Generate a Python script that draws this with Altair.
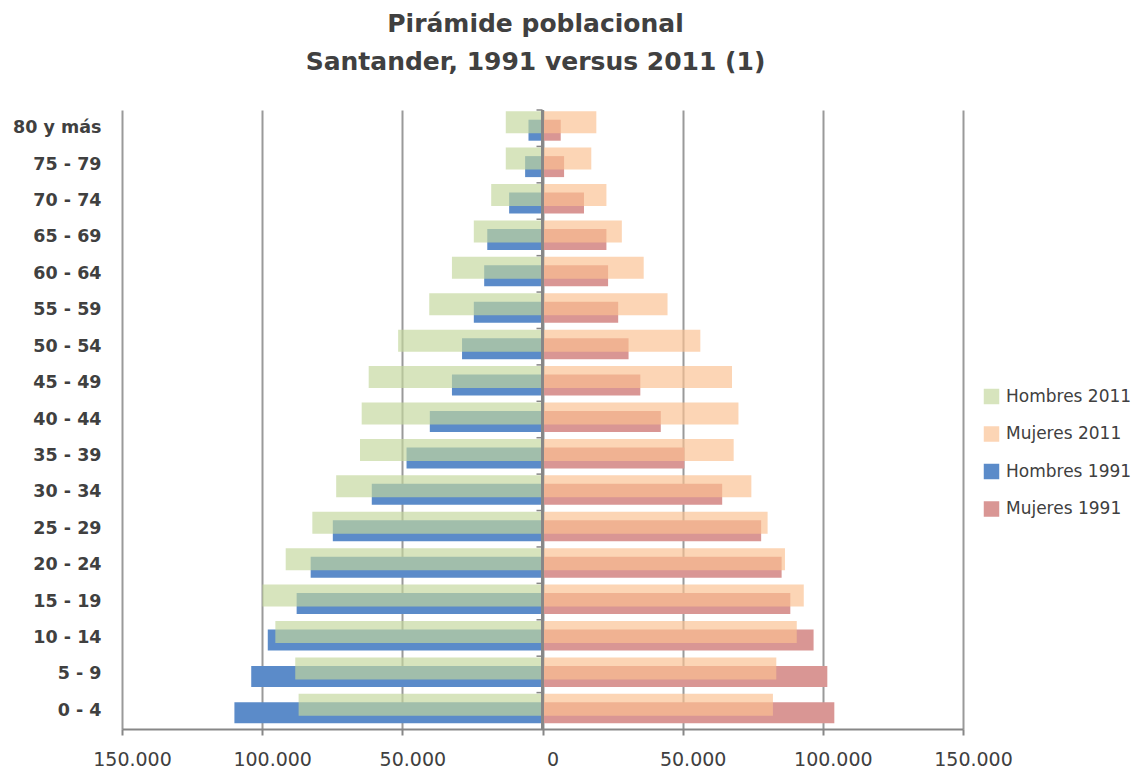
import altair as alt
import pandas as pd

ages = ["0 - 4", "5 - 9", "10 - 14", "15 - 19", "20 - 24", "25 - 29", "30 - 34",
        "35 - 39", "40 - 44", "45 - 49", "50 - 54", "55 - 59", "60 - 64",
        "65 - 69", "70 - 74", "75 - 79", "80 y más"]
hombres_2011 = [87000, 88200, 95300, 99900, 91600, 82100, 73600, 65100, 64500,
                62000, 51500, 40400, 32300, 24500, 18300, 13100, 13100]
hombres_1991 = [109900, 103900, 98000, 87700, 82700, 74800, 60900, 48500, 40200,
                32300, 28700, 24500, 20800, 19700, 11900, 6200, 5000]
mujeres_2011 = [82200, 83400, 90700, 93200, 86500, 80300, 74500, 68200, 69900,
                67600, 56300, 44600, 36100, 28300, 22800, 17400, 19200]
mujeres_1991 = [104100, 101600, 96700, 88400, 85300, 78000, 64100, 50600, 42200,
                34900, 30700, 27000, 23400, 22800, 14800, 7700, 6500]

series_order = ["Hombres 2011", "Mujeres 2011", "Hombres 1991", "Mujeres 1991"]
legend_colors = ["#d7e4bd", "#fcd5b5", "#5b8bc9", "#d99694"]
colors_2011 = ["#c3d79c", "#fbc091"]

rows = []
for i, a in enumerate(ages):
    rows.append(dict(edad=a, anio="1991", serie="Hombres 1991", valor=-hombres_1991[i]))
    rows.append(dict(edad=a, anio="1991", serie="Mujeres 1991", valor=mujeres_1991[i]))
    rows.append(dict(edad=a, anio="2011", serie="Hombres 2011", valor=-hombres_2011[i]))
    rows.append(dict(edad=a, anio="2011", serie="Mujeres 2011", valor=mujeres_2011[i]))
df = pd.DataFrame(rows)

FONT = "DejaVu Sans"
TXT = "#404040"

y_enc = alt.Y("edad:N", sort=list(reversed(ages)),
              scale=alt.Scale(paddingInner=0, paddingOuter=0),
              axis=alt.Axis(title=None, domain=False, ticks=False, grid=False,
                            labelFont=FONT, labelFontWeight="bold", labelFontSize=17.5,
                            labelColor=TXT, labelPadding=21))
x_enc = alt.X("valor:Q",
              scale=alt.Scale(domain=[-150000, 150000], nice=False),
              axis=alt.Axis(title=None,
                            values=[-150000, -100000, -50000, 0, 50000, 100000, 150000],
                            labelExpr="replace(format(abs(datum.value), ',.0f'), ',', '.')",
                            grid=True, gridColor="#9a9a9a", gridWidth=2,
                            domainColor="#878787", domainWidth=2,
                            tickColor="#878787", tickWidth=2, tickSize=6,
                            labelFont=FONT, labelFontSize=19, labelColor=TXT,
                            labelPadding=15, labelOffset=10, labelFlush=False,
                            labelOverlap=False))

base = alt.Chart(df)

bars_1991 = base.transform_filter("datum.anio == '1991'").mark_bar(
    height=21, yOffset=2
).encode(
    x=x_enc, y=y_enc,
    color=alt.Color("serie:N",
                    scale=alt.Scale(domain=series_order, range=legend_colors),
                    legend=alt.Legend(title=None, orient="none", legendX=861, legendY=278,
                                      labelFont=FONT, labelFontSize=17, labelColor=TXT,
                                      symbolType="square", symbolSize=240,
                                      symbolStrokeWidth=0, rowPadding=19.5,
                                      labelOffset=6, padding=0))
)

bars_2011 = base.transform_filter("datum.anio == '2011'").mark_bar(
    height=22, yOffset=-6, opacity=0.67
).encode(
    x=x_enc, y=y_enc,
    fill=alt.Fill("serie:N",
                  scale=alt.Scale(domain=series_order[:2], range=colors_2011),
                  legend=None)
)

zero_line = base.transform_filter("datum.serie == 'Hombres 1991'").mark_rule(
    color="#878787", strokeWidth=2
).encode(x=alt.datum(0))

zero_ticks = base.transform_filter("datum.serie == 'Hombres 1991'").mark_rule(
    color="#878787", strokeWidth=1.5, x2Offset=-6
).encode(
    x=alt.datum(0), x2=alt.datum(0),
    y=alt.Y("edad:N", sort=list(reversed(ages)), bandPosition=0)
)

chart = alt.layer(bars_1991, bars_2011, zero_line, zero_ticks).properties(
    width=841, height=619,
    autosize=alt.AutoSizeParams(type="none"),
    padding={"left": 114, "top": 102, "right": 170, "bottom": 42},
    title=alt.TitleParams(["Pirámide poblacional", "Santander, 1991 versus 2011 (1)"],
                          font=FONT, fontSize=25, fontWeight="bold", color=TXT,
                          lineHeight=38, anchor="middle", dx=-7, offset=34),
    background="white"
).configure_view(stroke=None)

chart.save("out.html", embed_options={"renderer": "svg", "actions": False})
